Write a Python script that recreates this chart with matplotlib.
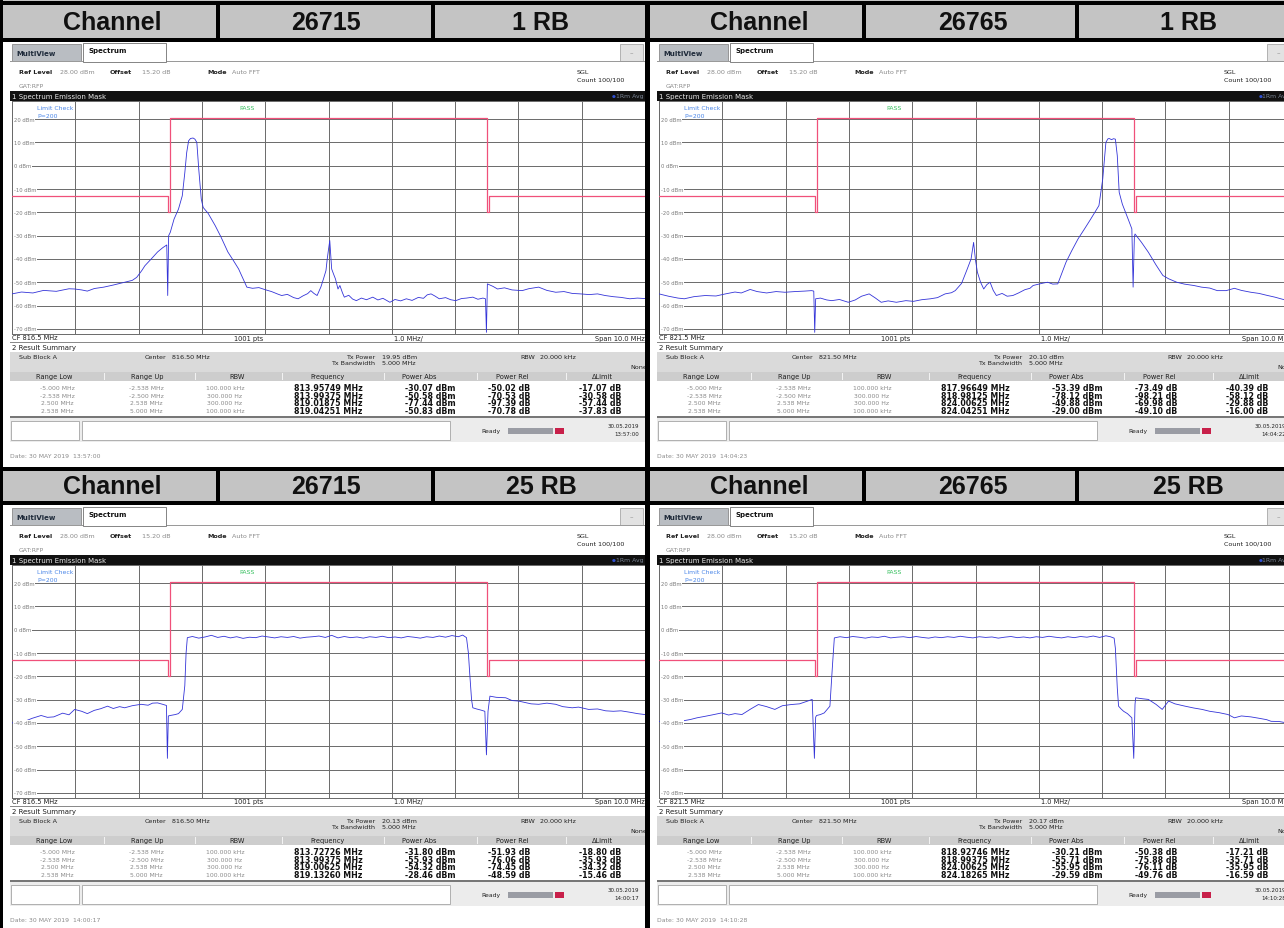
import matplotlib.pyplot as plt
from matplotlib.patches import Rectangle

# ---------------------------------------------------------------
# spectrum emission mask screenshots, 2 channels x 2 RB settings
# ---------------------------------------------------------------

W, H = 1284, 929
FONT = "DejaVu Sans"

channels = ["26715", "26765"]
rb_labels = ["1 RB", "25 RB"]
center_mhz = ["816.5", "821.5"]

# limit mask (offset from CF in MHz, dBm)
mask_f = [-5.0, -2.538, -2.538, -2.5, -2.5, 2.5, 2.5, 2.538, 2.538, 5.0]
mask_p = [-13, -13, -20, -20, 20.6, 20.6, -20, -20, -13, -13]

# traces: (offset MHz, dBm)
tl_trace = [(-5.00, -55.0), (-4.85, -54.2), (-4.67, -54.6), (-4.50, -53.5), (-4.30, -53.9),
            (-4.10, -52.8), (-4.01, -52.9), (-3.90, -53.3), (-3.81, -53.8), (-3.70, -52.7),
            (-3.55, -52.1), (-3.40, -51.2), (-3.22, -50.0), (-3.10, -49.2), (-3.03, -47.9),
            (-2.95, -45.0), (-2.90, -42.9), (-2.80, -40.0), (-2.70, -37.0), (-2.62, -35.2),
            (-2.555, -34.0), (-2.54, -55.7), (-2.525, -30.0), (-2.50, -28.6), (-2.44, -22.9),
            (-2.37, -18.6), (-2.31, -12.9), (-2.27, -3.0), (-2.24, 5.7), (-2.21, 10.7),
            (-2.18, 11.7), (-2.14, 11.9), (-2.11, 11.4), (-2.08, 10.0), (-2.05, -1.4),
            (-2.01, -14.3), (-1.98, -17.9), (-1.90, -20.5), (-1.79, -25.7), (-1.70, -30.5),
            (-1.59, -37.0), (-1.50, -40.8), (-1.42, -44.3), (-1.35, -48.5), (-1.29, -52.1),
            (-1.20, -52.6), (-1.10, -52.3), (-1.00, -53.2), (-0.90, -54.0), (-0.80, -55.1),
            (-0.74, -55.7), (-0.65, -55.2), (-0.55, -56.6), (-0.48, -57.1), (-0.40, -55.8),
            (-0.33, -54.9), (-0.28, -53.6), (-0.23, -54.8), (-0.18, -55.7), (-0.12, -52.0),
            (-0.08, -48.6), (-0.04, -45.0), (-0.02, -40.0), (0.00, -36.0), (0.02, -32.1),
            (0.05, -44.3), (0.08, -46.5), (0.11, -48.6), (0.15, -52.9), (0.18, -51.4),
            (0.22, -54.5), (0.25, -56.4), (0.32, -55.6), (0.38, -57.2), (0.44, -57.9),
            (0.52, -56.8), (0.60, -57.5), (0.70, -56.4), (0.78, -57.6), (0.86, -56.9),
            (0.97, -58.6), (1.05, -57.4), (1.14, -58.0), (1.23, -57.1), (1.32, -57.8),
            (1.42, -56.5), (1.50, -56.9), (1.56, -55.4), (1.62, -55.0), (1.68, -55.9),
            (1.75, -57.1), (1.85, -56.6), (1.93, -57.5), (2.01, -57.9), (2.10, -57.0),
            (2.18, -56.8), (2.28, -56.4), (2.36, -57.3), (2.44, -56.8), (2.48, -57.1),
            (2.495, -71.5), (2.51, -50.7), (2.60, -51.8), (2.67, -52.9), (2.78, -52.4),
            (2.90, -53.3), (3.06, -53.6), (3.16, -52.8), (3.25, -52.4), (3.32, -52.1),
            (3.45, -53.5), (3.59, -54.3), (3.72, -54.0), (3.85, -54.8), (3.98, -55.0),
            (4.12, -55.3), (4.25, -55.0), (4.37, -55.7), (4.50, -56.2), (4.62, -56.5),
            (4.76, -57.1), (4.88, -56.8), (5.00, -57.0)]

tr_trace = [(-5.00, -55.0), (-4.85, -56.0), (-4.70, -56.8), (-4.60, -57.1), (-4.45, -56.2),
            (-4.27, -55.7), (-4.10, -55.9), (-3.95, -55.0), (-3.80, -54.2), (-3.70, -54.6),
            (-3.56, -53.1), (-3.45, -54.0), (-3.30, -54.6), (-3.15, -54.0), (-3.01, -54.3),
            (-2.85, -54.0), (-2.70, -53.8), (-2.59, -53.6), (-2.555, -53.8), (-2.54, -71.5),
            (-2.525, -57.1), (-2.45, -56.8), (-2.35, -57.6), (-2.27, -57.9), (-2.15, -57.4),
            (-2.01, -58.6), (-1.90, -57.6), (-1.80, -56.0), (-1.68, -55.0), (-1.58, -56.8),
            (-1.49, -58.6), (-1.38, -58.0), (-1.25, -58.6), (-1.10, -57.9), (-0.98, -58.2),
            (-0.85, -57.5), (-0.71, -57.1), (-0.60, -56.6), (-0.48, -55.0), (-0.38, -54.5),
            (-0.32, -53.6), (-0.22, -50.5), (-0.13, -44.3), (-0.07, -40.0), (-0.03, -32.9),
            (0.00, -40.5), (0.03, -45.7), (0.08, -50.0), (0.13, -52.9), (0.18, -51.0),
            (0.23, -50.0), (0.28, -53.5), (0.33, -55.7), (0.42, -54.8), (0.50, -56.0),
            (0.59, -55.7), (0.68, -54.6), (0.78, -53.2), (0.86, -52.6), (0.91, -51.4),
            (1.00, -50.8), (1.08, -50.3), (1.14, -50.0), (1.22, -50.8), (1.30, -50.7),
            (1.43, -41.4), (1.52, -36.5), (1.62, -31.4), (1.72, -27.2), (1.82, -22.9),
            (1.95, -17.1), (2.01, -5.7), (2.06, 10.0), (2.09, 11.5), (2.11, 11.7),
            (2.15, 11.2), (2.18, 11.6), (2.21, 11.4), (2.24, 4.3), (2.27, -11.4),
            (2.32, -16.5), (2.37, -20.0), (2.42, -23.5), (2.47, -27.1), (2.49, -52.1),
            (2.51, -30.5), (2.52, -29.3), (2.62, -32.8), (2.73, -37.1), (2.85, -42.5),
            (2.96, -47.1), (3.05, -48.5), (3.18, -50.0), (3.30, -50.8), (3.45, -51.4),
            (3.57, -52.1), (3.70, -52.5), (3.82, -53.6), (3.96, -53.6), (4.09, -52.6),
            (4.20, -53.5), (4.35, -54.3), (4.48, -54.8), (4.60, -55.6), (4.73, -56.4),
            (4.85, -57.3), (5.00, -58.2)]

bl_trace = [(-5.00, -40.0), (-4.90, -39.6), (-4.80, -39.3), (-4.68, -38.0), (-4.54, -36.8),
            (-4.44, -37.6), (-4.34, -37.4), (-4.20, -35.8), (-4.10, -36.5), (-4.01, -34.2),
            (-3.90, -35.0), (-3.81, -36.0), (-3.70, -34.6), (-3.60, -33.9), (-3.49, -32.8),
            (-3.40, -33.8), (-3.30, -33.0), (-3.22, -33.5), (-3.10, -32.6), (-2.96, -32.0),
            (-2.85, -32.4), (-2.78, -31.5), (-2.70, -31.4), (-2.62, -32.0), (-2.56, -32.5),
            (-2.545, -55.2), (-2.53, -37.0), (-2.50, -36.8), (-2.42, -36.4), (-2.37, -36.0),
            (-2.31, -34.2), (-2.27, -24.0), (-2.25, -10.0), (-2.23, -3.4), (-2.15, -2.9),
            (-2.05, -3.6), (-1.95, -3.1), (-1.85, -2.4), (-1.75, -3.3), (-1.65, -2.8),
            (-1.55, -3.5), (-1.45, -3.0), (-1.35, -3.7), (-1.25, -3.2), (-1.15, -3.4),
            (-1.05, -2.7), (-0.95, -3.1), (-0.85, -3.5), (-0.75, -3.0), (-0.65, -3.3),
            (-0.55, -2.9), (-0.45, -3.6), (-0.35, -3.2), (-0.25, -3.0), (-0.15, -2.7),
            (-0.05, -3.3), (0.05, -2.4), (0.15, -3.5), (0.25, -2.9), (0.35, -3.4),
            (0.45, -3.1), (0.55, -3.6), (0.65, -3.0), (0.75, -3.3), (0.85, -2.8),
            (0.95, -3.4), (1.05, -3.1), (1.15, -3.5), (1.25, -2.9), (1.35, -3.2),
            (1.45, -3.6), (1.55, -3.0), (1.65, -3.3), (1.75, -2.7), (1.85, -3.2),
            (1.95, -2.5), (2.05, -3.0), (2.12, -2.3), (2.18, -3.4), (2.21, -10.0),
            (2.23, -18.4), (2.26, -30.0), (2.28, -33.5), (2.34, -34.0), (2.41, -34.5),
            (2.47, -35.0), (2.495, -53.7), (2.52, -35.0), (2.55, -28.5), (2.65, -29.0),
            (2.80, -29.2), (2.90, -30.4), (3.00, -30.6), (3.10, -31.2), (3.20, -31.8),
            (3.32, -32.0), (3.45, -31.5), (3.59, -32.0), (3.70, -33.0), (3.85, -33.5),
            (3.95, -33.2), (4.11, -34.2), (4.25, -34.0), (4.38, -34.8), (4.50, -35.0),
            (4.62, -34.8), (4.76, -35.4), (4.88, -36.0), (5.00, -36.4)]

br_trace = [(-5.00, -39.3), (-4.88, -39.8), (-4.73, -40.0), (-4.60, -39.0), (-4.50, -38.5),
            (-4.40, -37.8), (-4.28, -37.2), (-4.15, -36.5), (-4.01, -35.7), (-3.90, -36.6),
            (-3.80, -36.0), (-3.69, -36.4), (-3.55, -34.0), (-3.43, -32.1), (-3.30, -33.0),
            (-3.17, -34.2), (-3.05, -32.6), (-2.91, -32.1), (-2.78, -31.8), (-2.65, -30.6),
            (-2.58, -29.9), (-2.545, -55.2), (-2.525, -37.5), (-2.51, -36.8), (-2.45, -36.4),
            (-2.39, -35.7), (-2.30, -32.8), (-2.26, -15.5), (-2.23, -3.5), (-2.14, -3.0),
            (-2.04, -3.4), (-1.94, -2.9), (-1.84, -3.2), (-1.74, -3.6), (-1.64, -3.1),
            (-1.54, -3.3), (-1.44, -2.8), (-1.34, -3.5), (-1.24, -3.2), (-1.14, -3.0),
            (-1.04, -3.4), (-0.94, -2.9), (-0.84, -3.3), (-0.74, -3.6), (-0.64, -3.1),
            (-0.54, -3.4), (-0.44, -3.0), (-0.34, -3.3), (-0.24, -2.8), (-0.14, -3.2),
            (-0.04, -3.5), (0.06, -3.0), (0.16, -3.3), (0.26, -3.1), (0.36, -3.6),
            (0.46, -3.2), (0.56, -2.9), (0.66, -3.4), (0.76, -3.1), (0.86, -3.5),
            (0.96, -3.0), (1.06, -3.3), (1.16, -2.8), (1.26, -3.2), (1.36, -3.5),
            (1.46, -3.0), (1.56, -3.4), (1.66, -2.9), (1.76, -3.2), (1.86, -2.7),
            (1.96, -3.3), (2.06, -2.6), (2.13, -3.0), (2.19, -3.6), (2.21, -8.0),
            (2.24, -25.0), (2.26, -32.8), (2.30, -34.0), (2.34, -35.0), (2.40, -36.0),
            (2.47, -37.8), (2.50, -55.2), (2.52, -32.0), (2.53, -29.2), (2.63, -29.6),
            (2.73, -29.9), (2.85, -32.0), (2.95, -34.2), (3.05, -30.6), (3.15, -31.8),
            (3.31, -32.8), (3.45, -33.6), (3.58, -34.2), (3.70, -35.0), (3.85, -35.6),
            (3.99, -36.4), (4.09, -37.8), (4.20, -37.0), (4.35, -37.4), (4.48, -38.0),
            (4.60, -38.6), (4.67, -39.3), (4.80, -39.4), (4.92, -40.0), (5.00, -40.3)]

# result summary tables
range_low = ["-5.000 MHz", "-2.538 MHz", "2.500 MHz", "2.538 MHz"]
range_up = ["-2.538 MHz", "-2.500 MHz", "2.538 MHz", "5.000 MHz"]
range_rbw = ["100.000 kHz", "300.000 Hz", "300.000 Hz", "100.000 kHz"]

tl_freq = ["813.95749 MHz", "813.99375 MHz", "819.01875 MHz", "819.04251 MHz"]
tl_abs = ["-30.07 dBm", "-50.58 dBm", "-77.44 dBm", "-50.83 dBm"]
tl_rel = ["-50.02 dB", "-70.53 dB", "-97.39 dB", "-70.78 dB"]
tl_lim = ["-17.07 dB", "-30.58 dB", "-57.44 dB", "-37.83 dB"]

tr_freq = ["817.96649 MHz", "818.98125 MHz", "824.00625 MHz", "824.04251 MHz"]
tr_abs = ["-53.39 dBm", "-78.12 dBm", "-49.88 dBm", "-29.00 dBm"]
tr_rel = ["-73.49 dB", "-98.21 dB", "-69.98 dB", "-49.10 dB"]
tr_lim = ["-40.39 dB", "-58.12 dB", "-29.88 dB", "-16.00 dB"]

bl_freq = ["813.72726 MHz", "813.99375 MHz", "819.00625 MHz", "819.13260 MHz"]
bl_abs = ["-31.80 dBm", "-55.93 dBm", "-54.32 dBm", "-28.46 dBm"]
bl_rel = ["-51.93 dB", "-76.06 dB", "-74.45 dB", "-48.59 dB"]
bl_lim = ["-18.80 dB", "-35.93 dB", "-34.32 dB", "-15.46 dB"]

br_freq = ["818.92746 MHz", "818.99375 MHz", "824.00625 MHz", "824.18265 MHz"]
br_abs = ["-30.21 dBm", "-55.71 dBm", "-55.95 dBm", "-29.59 dBm"]
br_rel = ["-50.38 dB", "-75.88 dB", "-76.11 dB", "-49.76 dB"]
br_lim = ["-17.21 dB", "-35.71 dB", "-35.95 dB", "-16.59 dB"]

tx_power = ["19.95 dBm", "20.10 dBm", "20.13 dBm", "20.17 dBm"]
stamp_times = ["13:57:00", "14:04:22", "14:00:17", "14:10:28"]
date_times = ["13:57:00", "14:04:23", "14:00:17", "14:10:28"]

fig = plt.figure(figsize=(W / 100, H / 100), dpi=100)
fig.patch.set_facecolor("white")


def fx(x):
    return x / W


def fy(y):
    return 1 - y / H


def box(x, y, w, h, fc, ec="none", lw=0.0, z=1):
    fig.add_artist(Rectangle((fx(x), fy(y + h)), w / W, h / H, transform=fig.transFigure,
                             fc=fc, ec=ec, lw=lw, zorder=z))


def put(x, y, s, size=4.6, color="#202020", weight="normal", ha="left", family=FONT, z=5):
    fig.text(fx(x), fy(y), s, fontsize=size, color=color, fontweight=weight, ha=ha,
             va="center", family=family, zorder=z)


def draw_panel(X0, Y0, cf, cf_label, trace, freqs, pabs, prel, plim, txp, stamp, dtime):
    dark, grey = "#202020", "#8a8a8a"
    # tab bar
    box(X0 + 8, Y0 + 2, 69, 17, "#b9bdc2", "#8a8a8a", 0.6)
    put(X0 + 12, Y0 + 11, "MultiView", 5.0, "#1e2a3a", "bold")
    box(X0 + 79, Y0 + 1, 83, 18.5, "white", "#707070", 0.6, z=2)
    put(X0 + 85, Y0 + 8.5, "Spectrum", 5.0, "#101010", "bold")
    box(X0 + 616, Y0 + 2, 23, 17, "#e2e2e2", "#a8a8a8", 0.6)
    put(X0 + 627.5, Y0 + 10, "–", 5, "#909090", ha="center")
    box(X0 + 6, Y0 + 19.2, 636, 0.7, "#9a9a9a")

    put(X0 + 15, Y0 + 29, "Ref Level", 4.6, dark, "bold")
    put(X0 + 56, Y0 + 29, "28.00 dBm", 4.6, grey)
    put(X0 + 106, Y0 + 29, "Offset", 4.6, dark, "bold")
    put(X0 + 138, Y0 + 29, "15.20 dB", 4.6, grey)
    put(X0 + 203, Y0 + 29, "Mode", 4.6, dark, "bold")
    put(X0 + 228, Y0 + 29, "Auto FFT", 4.6, grey)
    put(X0 + 573, Y0 + 29, "SGL", 4.6, dark)
    put(X0 + 573, Y0 + 37, "Count 100/100", 4.6, dark)
    put(X0 + 15, Y0 + 44, "GAT:RFP", 4.4, grey)

    box(X0 + 6, Y0 + 49, 636, 9.5, "#111111", z=2)
    put(X0 + 8, Y0 + 53.8, "1 Spectrum Emission Mask", 5.0, "#e8e8e8", z=6)
    put(X0 + 639, Y0 + 53.8, "1Rm Avg", 4.4, "#7a8494", ha="right", z=6)
    put(X0 + 612, Y0 + 53.8, "\u25cf", 3.2, "#3050d0", ha="right", z=6)

    # plot area
    ax = fig.add_axes([fx(X0 + 8), fy(Y0 + 291.5), 633 / W, 233 / H])
    ax.set_xlim(cf - 5, cf + 5)
    ax.set_ylim(-72, 28)
    ax.set_xticks([cf + k for k in range(-5, 6)])
    ax.set_yticks(range(-70, 30, 10))
    ax.grid(True, color="#6a6a6a", lw=0.7)
    ax.tick_params(length=0, labelbottom=False, labelleft=False)
    for s in ax.spines.values():
        s.set_color("#6a6a6a")
        s.set_linewidth(0.7)
    ax.plot([cf + f for f in mask_f], mask_p, color="#f0507a", lw=0.9, zorder=3)
    tf = [cf + f for f, p in trace]
    tp = [p for f, p in trace]
    ax.plot(tf, tp, color="#3434d8", lw=0.6, zorder=4)
    for v in range(-70, 30, 10):
        ax.text(cf - 4.97, v, f"{v} dBm", fontsize=3.8, color="#7a7a7a", va="center",
                family=FONT, zorder=5, bbox=dict(fc="white", ec="none", pad=0.4))
    ax.text(cf - 4.6, 25.2, "Limit Check", fontsize=4.4, color="#4a86e8", va="center", family=FONT)
    ax.text(cf - 4.6, 21.6, "P=200", fontsize=4.4, color="#4a86e8", va="center", family=FONT)
    ax.text(cf - 1.29, 25.2, "PASS", fontsize=4.4, color="#38c060", va="center", ha="center", family=FONT)

    put(X0 + 8, Y0 + 295.5, f"CF {cf_label} MHz", 4.8, dark)
    put(X0 + 245, Y0 + 295.5, "1001 pts", 4.8, dark, ha="center")
    put(X0 + 404, Y0 + 295.5, "1.0 MHz/", 4.8, dark, ha="center")
    put(X0 + 641, Y0 + 295.5, "Span 10.0 MHz", 4.8, dark, ha="right")
    box(X0 + 6, Y0 + 300, 636, 0.8, "#8a8a8a")

    # result summary
    put(X0 + 8, Y0 + 305.5, "2 Result Summary", 5.0, dark)
    box(X0 + 6, Y0 + 310, 636, 20, "#dadada")
    box(X0 + 6, Y0 + 330, 636, 9, "#cdcdcd")
    box(X0 + 6, Y0 + 329.5, 636, 0.7, "#f4f4f4", z=2)
    put(X0 + 15, Y0 + 314.5, "Sub Block A", 4.6, dark)
    put(X0 + 162, Y0 + 314.5, "Center", 4.6, dark, ha="right")
    put(X0 + 168, Y0 + 314.5, f"{cf:.2f} MHz", 4.6, dark)
    put(X0 + 371, Y0 + 314.5, "Tx Power", 4.6, dark, ha="right")
    put(X0 + 378, Y0 + 314.5, txp, 4.6, dark)
    put(X0 + 371, Y0 + 320.5, "Tx Bandwidth", 4.6, dark, ha="right")
    put(X0 + 378, Y0 + 320.5, "5.000 MHz", 4.6, dark)
    put(X0 + 531, Y0 + 314.5, "RBW", 4.6, dark, ha="right")
    put(X0 + 536, Y0 + 314.5, "20.000 kHz", 4.6, dark)
    put(X0 + 643, Y0 + 325, "None", 4.6, dark, ha="right")

    heads = ["Range Low", "Range Up", "RBW", "Frequency", "Power Abs", "Power Rel", "\u0394Limit"]
    head_x = [50, 143, 233, 324, 415, 508, 598]
    for hx, ht in zip(head_x, heads):
        put(X0 + hx, Y0 + 334, ht, 4.8, dark, ha="center")
    for sx in [100, 191, 278, 380, 473, 562]:
        box(X0 + sx, Y0 + 331, 0.8, 7, "#f2f2f2", z=2)
    box(X0 + 6, Y0 + 338.6, 636, 0.8, "#9a9a9a", z=2)

    row_y = [345.5, 353.2, 360.9, 368.6]
    cols = [(53, range_low, False), (142, range_up, False), (221, range_rbw, False),
            (324, freqs, True), (426, pabs, True), (505, prel, True), (596, plim, True)]
    for cx, vals, bold in cols:
        for ry, v in zip(row_y, vals):
            if bold:
                put(X0 + cx, Y0 + ry, v, 5.7, "#111111", "bold", ha="center")
            else:
                put(X0 + cx, Y0 + ry, v, 4.4, grey, ha="center")
    box(X0 + 6, Y0 + 374, 636, 2, "#777777")

    # status bar
    box(X0 + 6, Y0 + 376, 636, 24, "#ececec")
    box(X0 + 7, Y0 + 379, 68, 19, "white", "#a4a4a4", 0.6, z=2)
    box(X0 + 78, Y0 + 379, 368, 19, "white", "#a4a4a4", 0.6, z=2)
    put(X0 + 477, Y0 + 389, "Ready", 4.4, dark)
    box(X0 + 504, Y0 + 385.5, 45, 6, "#9a9ca4", z=2)
    box(X0 + 551, Y0 + 385.5, 9, 6, "#c8204a", z=2)
    put(X0 + 635, Y0 + 384, "30.05.2019", 4.0, dark, ha="right")
    put(X0 + 635, Y0 + 392, stamp, 4.0, dark, ha="right")

    put(X0 + 6, Y0 + 414, f"Date: 30 MAY 2019  {dtime}", 4.4, "#8a8a8a")


# header rows and table frame
HEAD_GREY = "#c4c4c4"
box(0, 0, W, 2, HEAD_GREY)
for y0, y1, rb in [(5, 39, rb_labels[0]), (472, 502, rb_labels[1])]:
    box(0, y0, W, y1 - y0, HEAD_GREY)
    ym = (y0 + y1) / 2 + 0.5
    for base, ch in [(0, channels[0]), (647, channels[1])]:
        put(base + 112, ym, "Channel", 18, "#101010", "bold", ha="center", family="Liberation Sans")
        put(base + 326, ym, ch, 18, "#101010", "bold", ha="center", family="Liberation Sans")
        put(base + 541, ym, rb, 18, "#101010", "bold", ha="center", family="Liberation Sans")
    for sx in [216, 431, 862, 1075]:
        box(sx, y0, 4, y1 - y0, "black", z=10)

for yb in [2, 39, 468, 502]:
    box(0, yb, W, 4, "black", z=10)
box(0, 0, 3, H, "black", z=10)
box(645, 2, 5, H, "black", z=10)

panels = [
    (4, 43, 816.5, center_mhz[0], tl_trace, tl_freq, tl_abs, tl_rel, tl_lim, 0),
    (651, 43, 821.5, center_mhz[1], tr_trace, tr_freq, tr_abs, tr_rel, tr_lim, 1),
    (4, 507, 816.5, center_mhz[0], bl_trace, bl_freq, bl_abs, bl_rel, bl_lim, 2),
    (651, 507, 821.5, center_mhz[1], br_trace, br_freq, br_abs, br_rel, br_lim, 3),
]
for X0, Y0, cf, cfl, tr, fq, pa, pr, pl, k in panels:
    draw_panel(X0, Y0, cf, cfl, tr, fq, pa, pr, pl, tx_power[k], stamp_times[k], date_times[k])

fig.savefig("out.png", dpi=100)
